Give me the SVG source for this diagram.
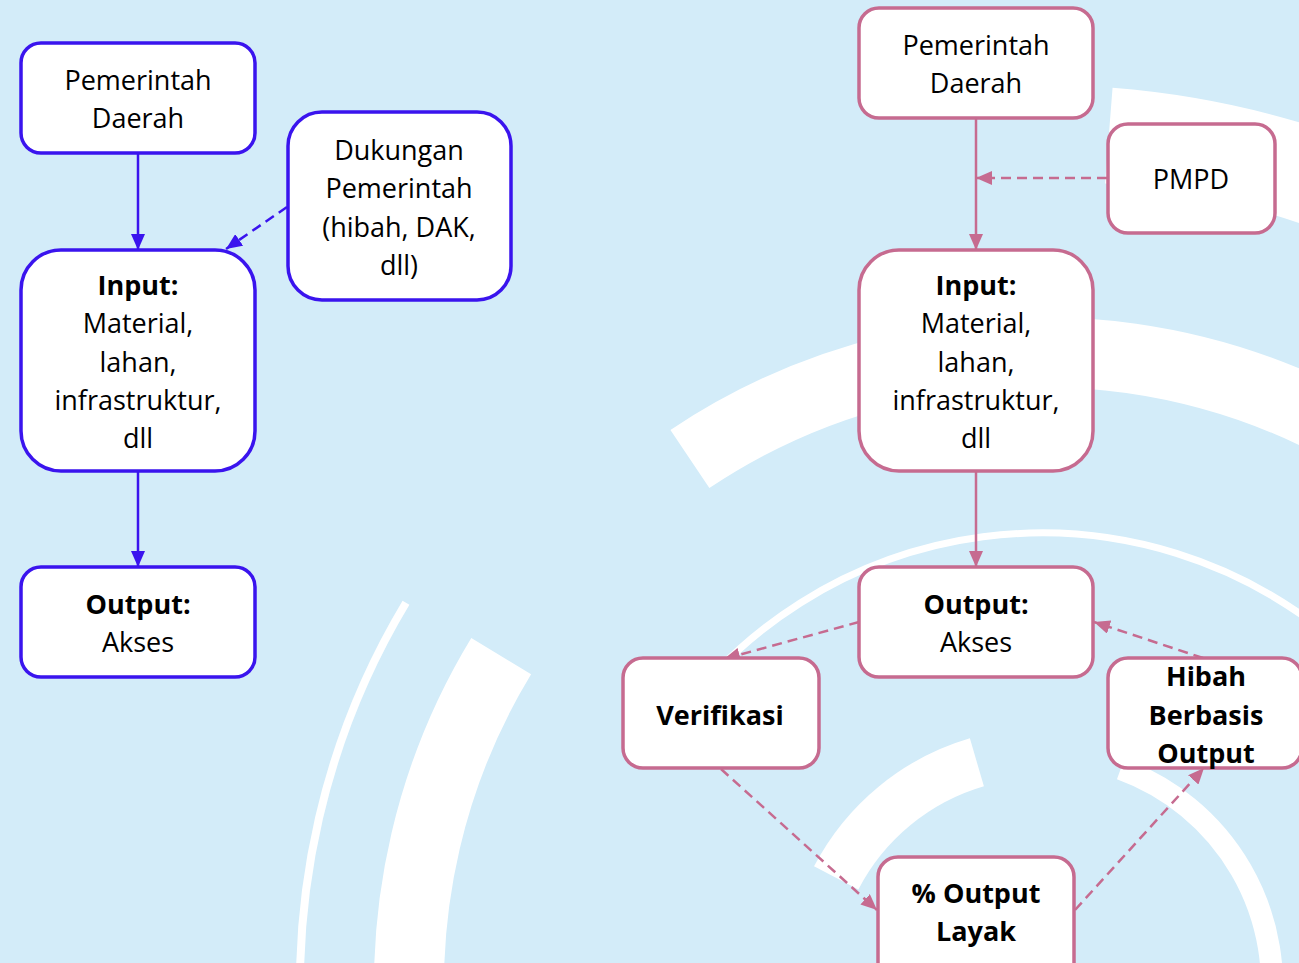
<svg xmlns="http://www.w3.org/2000/svg" width="1299" height="963" viewBox="0 0 1299 963">
<style>
.arc{fill:none;stroke:#ffffff}
.nb{fill:#ffffff;stroke:#3a14ee;stroke-width:3.5}
.np{fill:#ffffff;stroke:#c66b90;stroke-width:3.5}
text{font-family:"Open Sans","Noto Sans","DejaVu Sans",sans-serif;font-size:27px;fill:#000;text-anchor:middle}
.b{font-weight:bold}
.cb{fill:none;stroke:#3a14ee;stroke-width:2.5}
.cp{fill:none;stroke:#c66b90;stroke-width:2.5}
.d{stroke-dasharray:10 6}
</style>
<defs>
<marker id="ab" markerUnits="userSpaceOnUse" markerWidth="16" markerHeight="14" refX="16" refY="7" orient="auto"><path d="M0,0 L16,7 L0,14 z" fill="#3a14ee"/></marker>
<marker id="ap" markerUnits="userSpaceOnUse" markerWidth="16" markerHeight="14" refX="16" refY="7" orient="auto"><path d="M0,0 L16,7 L0,14 z" fill="#c66b90"/></marker>
</defs>
<rect x="0" y="0" width="1299" height="963" fill="#d3ecf9"/>
<g id="background-arcs">
<path class="arc" stroke-width="70" d="M411.4,1040.2 A633,633 0 0 1 501.2,656.1"/>
<path class="arc" stroke-width="70" d="M689.9,459 A633,633 0 0 1 1526.9,578.1"/>
<path class="arc" stroke-width="8" d="M302.8,1049.7 A742,742 0 0 1 406,602.8"/>
<path class="arc" stroke-width="7" d="M671.7,725.7 A452,452 0 0 1 1332.5,638.7"/>
<path class="arc" stroke-width="96" d="M1108.8,135.6 A852,852 0 0 1 1694.7,437.3"/>
<path class="arc" stroke-width="50" d="M836.2,877.9 A232,232 0 0 1 976.9,762.3"/>
<path class="arc" stroke-width="22" d="M1120.7,768.9 A230,230 0 0 1 1268.5,1024.9"/>
</g>
<g id="connectors">
<line class="cb" x1="138" y1="153" x2="138" y2="250" marker-end="url(#ab)"/>
<line class="cb d" x1="287" y1="207" x2="226" y2="249" marker-end="url(#ab)"/>
<line class="cb" x1="138" y1="471" x2="138" y2="567" marker-end="url(#ab)"/>
<line class="cp" x1="976" y1="118" x2="976" y2="250" marker-end="url(#ap)"/>
<line class="cp d" x1="1107" y1="178" x2="976" y2="178" marker-end="url(#ap)"/>
<line class="cp" x1="976" y1="471" x2="976" y2="567" marker-end="url(#ap)"/>
<line class="cp d" x1="859" y1="622" x2="724" y2="659" marker-end="url(#ap)"/>
<line class="cp d" x1="1203" y1="658" x2="1094" y2="622" marker-end="url(#ap)"/>
<line class="cp d" x1="721" y1="769" x2="877" y2="910" marker-end="url(#ap)"/>
<line class="cp d" x1="1075" y1="910" x2="1204" y2="768" marker-end="url(#ap)"/>
</g>
<g id="left-pemda">
<rect class="nb" x="21" y="43" width="234" height="110" rx="20"/>
<text x="138" y="90">Pemerintah</text>
<text x="138" y="128">Daerah</text>
</g>
<g id="left-dukungan">
<rect class="nb" x="288" y="112" width="223" height="188" rx="34"/>
<text x="399" y="160">Dukungan</text>
<text x="399" y="198">Pemerintah</text>
<text x="399" y="237">(hibah, DAK,</text>
<text x="399" y="275">dll)</text>
</g>
<g id="left-input">
<rect class="nb" x="21" y="250" width="234" height="221" rx="40"/>
<text class="b" x="138" y="295">Input:</text>
<text x="138" y="333">Material,</text>
<text x="138" y="372">lahan,</text>
<text x="138" y="410">infrastruktur,</text>
<text x="138" y="448">dll</text>
</g>
<g id="left-output">
<rect class="nb" x="21" y="567" width="234" height="110" rx="20"/>
<text class="b" x="138" y="614">Output:</text>
<text x="138" y="652">Akses</text>
</g>
<g id="right-pemda">
<rect class="np" x="859" y="8" width="234" height="110" rx="20"/>
<text x="976" y="55">Pemerintah</text>
<text x="976" y="93">Daerah</text>
</g>
<g id="right-pmpd">
<rect class="np" x="1108" y="124" width="167" height="109" rx="20"/>
<text x="1191" y="189">PMPD</text>
</g>
<g id="right-input">
<rect class="np" x="859" y="250" width="234" height="221" rx="40"/>
<text class="b" x="976" y="295">Input:</text>
<text x="976" y="333">Material,</text>
<text x="976" y="372">lahan,</text>
<text x="976" y="410">infrastruktur,</text>
<text x="976" y="448">dll</text>
</g>
<g id="right-output">
<rect class="np" x="859" y="567" width="234" height="110" rx="20"/>
<text class="b" x="976" y="614">Output:</text>
<text x="976" y="652">Akses</text>
</g>
<g id="verifikasi">
<rect class="np" x="623" y="658" width="196" height="110" rx="20"/>
<text class="b" x="720" y="725">Verifikasi</text>
</g>
<g id="hibah">
<rect class="np" x="1108" y="658" width="194" height="110" rx="20"/>
<text class="b" x="1206" y="686">Hibah</text>
<text class="b" x="1206" y="725">Berbasis</text>
<text class="b" x="1206" y="763">Output</text>
</g>
<g id="persen-output">
<rect class="np" x="878" y="857" width="196" height="130" rx="20"/>
<text class="b" x="976" y="903">% Output</text>
<text class="b" x="976" y="941">Layak</text>
</g>
</svg>
